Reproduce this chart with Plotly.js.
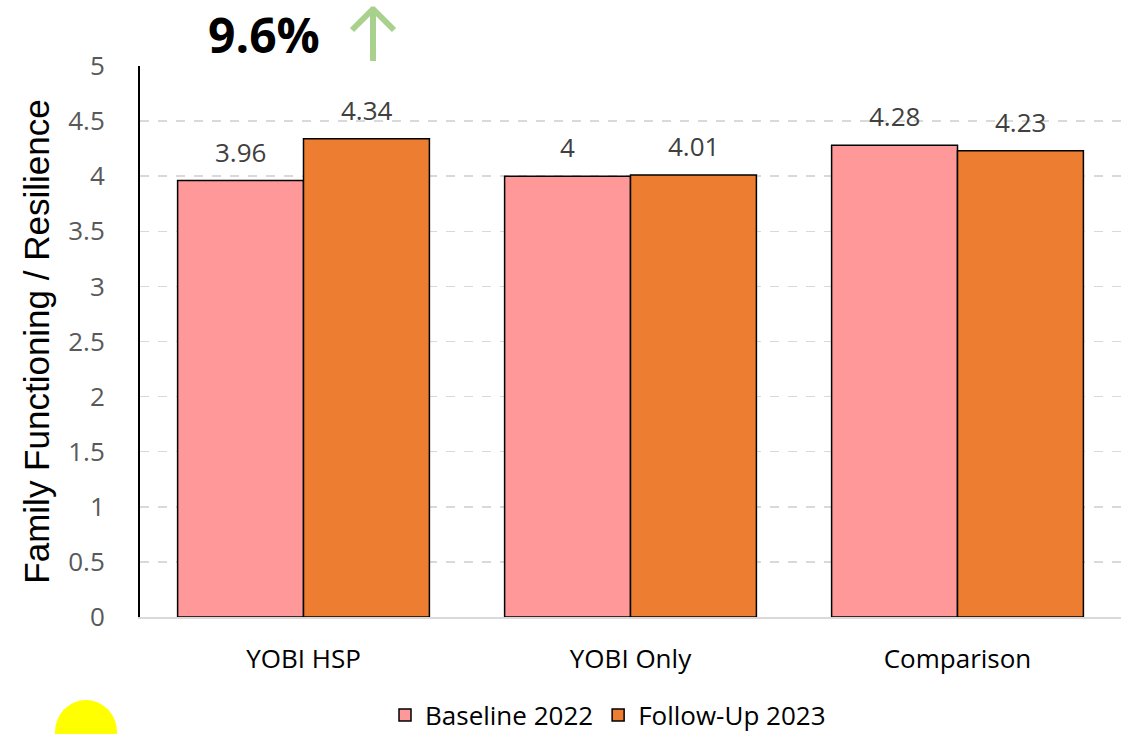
<!DOCTYPE html>
<html>
<head>
<meta charset="utf-8">
<script src="https://cdn.plot.ly/plotly-3.0.1.min.js"></script>
<style>
  html, body { margin: 0; padding: 0; background: #fff; }
  #chart { width: 1135px; height: 734px; }
</style>
</head>
<body>
<div id="chart"></div>
<script>
// Family functioning / resilience scores by group
const groups = ['YOBI HSP', 'YOBI Only', 'Comparison'];
const baseline2022 = [3.96, 4, 4.28];
const followUp2023 = [4.34, 4.01, 4.23];
const seriesNames = ['Baseline 2022', 'Follow-Up 2023'];
const headline = '9.6%';

const baseFont = '"Open Sans", Lato, sans-serif';

const traces = [
  {
    type: 'bar', name: seriesNames[0], x: groups, y: baseline2022,
    marker: { color: '#ff9999', line: { color: '#000', width: 1.5 } },
    hoverinfo: 'x+y'
  },
  {
    type: 'bar', name: seriesNames[1], x: groups, y: followUp2023,
    marker: { color: '#ed7d31', line: { color: '#000', width: 1.5 } },
    hoverinfo: 'x+y'
  }
];

// value labels above each bar, shifted left/right onto the grouped bar
const annotations = [];
[baseline2022, followUp2023].forEach((vals, si) => {
  vals.forEach((v, i) => {
    annotations.push({
      x: groups[i], y: v, xref: 'x', yref: 'y',
      xshift: si === 0 ? -63 : 63, yshift: 29,
      xanchor: 'center', yanchor: 'middle',
      text: String(v), showarrow: false,
      font: { family: baseFont, size: 26, color: '#404040' }
    });
  });
});

// pixel -> paper helpers for the plot area (x 140..1121, y 66..617)
const px = x => (x - 140) / 981;
const py = y => (617 - y) / 551;

// headline change above the first group
annotations.push({
  x: px(264), y: py(0), xref: 'paper', yref: 'paper',
  xanchor: 'center', yanchor: 'top',
  text: '<b>' + headline + '</b>', showarrow: false,
  font: { family: baseFont, size: 48, color: '#000' }
});

// green up arrow and yellow dot outside the plot area
const arrowColor = '#a9d18e';
const shapes = [
  { type: 'line', xref: 'paper', yref: 'paper', x0: px(373), x1: px(373), y0: py(61), y1: py(9),
    line: { color: arrowColor, width: 6 } },
  { type: 'line', xref: 'paper', yref: 'paper', x0: px(374), x1: px(352), y0: py(8), y1: py(30),
    line: { color: arrowColor, width: 6 } },
  { type: 'line', xref: 'paper', yref: 'paper', x0: px(372), x1: px(394), y0: py(8), y1: py(30),
    line: { color: arrowColor, width: 6 } },
  { type: 'circle', xref: 'paper', yref: 'paper', x0: px(55), x1: px(117), y0: py(700), y1: py(764),
    fillcolor: '#ffff00', line: { width: 0 } }
];

const layout = {
  width: 1135, height: 734,
  margin: { l: 140, r: 14, t: 66, b: 117 },
  paper_bgcolor: '#fff', plot_bgcolor: '#fff',
  barmode: 'group', bargap: 0.23, bargroupgap: 0,
  font: { family: baseFont, color: '#000' },
  xaxis: {
    type: 'category', automargin: false,
    tickfont: { family: baseFont, size: 26, color: '#000' },
    showline: true, linecolor: '#d9d9d9', linewidth: 2,
    ticks: '', showgrid: false, zeroline: false,
    ticklabelstandoff: 18
  },
  yaxis: {
    range: [0, 5], dtick: 0.5, tick0: 0, automargin: false,
    tickfont: { family: baseFont, size: 26, color: '#595959' },
    showline: true, linecolor: '#000', linewidth: 2,
    showgrid: true, gridcolor: '#d9d9d9', griddash: 'dash', gridwidth: 1.5,
    zeroline: false, ticks: '', ticklabelstandoff: 28,
    title: { text: 'Family Functioning / Resilience', standoff: 8,
             font: { family: '"Liberation Sans", Arial, sans-serif', size: 35, color: '#000' } }
  },
  legend: {
    orientation: 'h', xref: 'paper', x: px(608), xanchor: 'center',
    yref: 'container', y: (734 - 715) / 734, yanchor: 'middle',
    font: { family: baseFont, size: 26, color: '#000' },
    itemwidth: 30, traceorder: 'normal'
  },
  showlegend: true,
  annotations: annotations,
  shapes: shapes
};

Plotly.newPlot('chart', traces, layout, { displayModeBar: false, staticPlot: true });
</script>
</body>
</html>
